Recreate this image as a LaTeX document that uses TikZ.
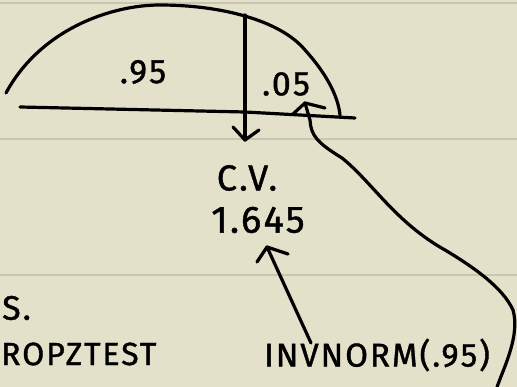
\documentclass[tikz,border=0pt]{standalone}
\usepackage{fontspec}
\setmainfont{Fira Sans}
\newfontfamily\handfont[LetterSpace=6,FakeBold=1.2]{Fira Sans}
\definecolor{paper}{RGB}{227,225,202}
\definecolor{rule}{RGB}{200,198,176}
\tikzset{
  ink/.style={line width=3.2pt, line cap=round, line join=round, black},
  ruleline/.style={line width=2pt, rule},
  hand/.style={font=\handfont\fontsize{34}{36}\selectfont, inner sep=0pt},
}
\begin{document}
\begin{tikzpicture}[x=1pt,y=-1pt]
\fill[paper] (0,0) rectangle (517,387);
\useasboundingbox (0,0) rectangle (517,387);
% paper rules
\draw[ruleline] (0,3) -- (517,3);
\draw[ruleline] (0,139) -- (517,139);
\draw[ruleline] (0,275) -- (517,275);
% bell curve (top half)
\draw[ink] (6,93) .. controls (40,30) and (110,5) .. (160,5)
  .. controls (220,5) and (280,20) .. (305,50)
  .. controls (325,72) and (338,95) .. (340,115);
% baseline
\draw[ink] (20,107) -- (245,112) -- (355,118);
% labels in the curve
\node[hand] (p95) at (143,72) {.95};
\node[hand] (p05) at (286,84) {.05};
% critical value
\node[hand, font=\handfont\fontsize{36}{38}\selectfont] (cv) at (247,178) {C.V.};
\node[hand, font=\handfont\fontsize{38}{40}\selectfont] (val) at (258,220) {1.645};
% vertical divider with arrow down to C.V.
\coordinate (vtop) at (245,15);
\coordinate (vtip) at (245,140);
\draw[ink] (vtop) -- (vtip);
\draw[ink] (233,127) -- (vtip) -- (259,130);
% invnorm
\node[hand, font=\handfont\fontsize{33}{35}\selectfont] (inv) at (377,355) {INVNORM(.95)};
% arrow from invnorm to 1.645
\coordinate (itail) at (311,343);
\coordinate (itip) at (267,247);
\draw[ink] (itail) -- (itip);
\draw[ink] (257,262) -- (itip) -- (288,254);
% long curve from bottom right to .05
\coordinate (ctip) at (305,103);
\coordinate (cend) at (497,387);
\draw[ink] (cend) .. controls (505,365) and (520,335) .. (513,310)
  .. controls (503,288) and (475,268) .. (445,250)
  .. controls (395,222) and (372,182) .. (342,158)
  .. controls (316,142) and (311,135) .. (310,120)
  -- (ctip);
\draw[ink] (293,114) -- (ctip) -- (325,108);
% left side notes
\node[hand, anchor=west, font=\handfont\fontsize{34}{36}\selectfont] (s) at (2,308) {S.};
\node[hand, anchor=west, font=\handfont\fontsize{32}{34}\selectfont] (prop) at (1,354) {ROPZTEST};
\end{tikzpicture}
\end{document}
